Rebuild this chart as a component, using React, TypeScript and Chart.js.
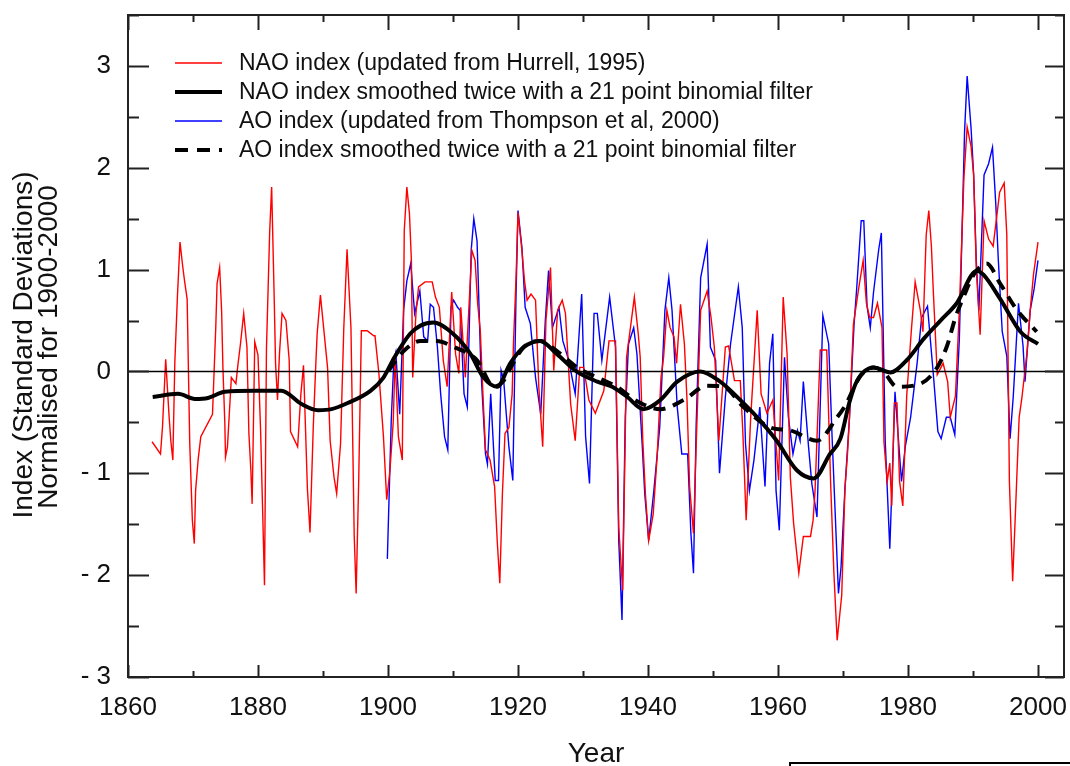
import React, { useEffect, useRef } from "react";
import { Chart, registerables } from "chart.js";

Chart.register(...registerables);

// ---------- data ----------
const naoYears = [1863.7,1865.0,1865.3,1865.8,1866.3,1866.6,1866.9,1867.2,1867.6,1868.0,1868.4,1868.7,1869.1,1869.5,1869.9,1870.2,1870.4,1870.8,1871.2,1873.0,1873.5,1873.7,1874.1,1874.4,1874.6,1874.9,1875.0,1875.3,1875.9,1876.6,1876.9,1877.3,1877.8,1878.3,1878.6,1878.9,1879.1,1879.5,1880.0,1880.4,1880.7,1881.0,1881.3,1881.8,1882.1,1882.5,1882.7,1883.0,1883.3,1883.7,1884.3,1884.8,1885.0,1886.1,1886.6,1887.0,1887.6,1888.0,1888.5,1888.9,1889.1,1889.6,1890.7,1891.1,1891.7,1892.1,1892.7,1893.2,1893.7,1894.3,1894.8,1895.1,1895.5,1895.9,1896.8,1897.8,1898.0,1898.6,1899.3,1899.8,1900.3,1900.8,1901.1,1901.6,1902.2,1902.5,1902.9,1903.3,1903.6,1903.8,1904.3,1904.7,1905.7,1906.8,1907.3,1907.9,1908.5,1909.1,1909.8,1910.4,1910.9,1911.2,1911.9,1912.9,1913.4,1913.8,1914.2,1914.6,1915.0,1915.7,1916.4,1916.8,1917.2,1917.6,1918.0,1918.6,1919.1,1919.3,1919.7,1920.0,1920.6,1921.0,1921.4,1922.0,1922.7,1923.2,1923.8,1924.3,1925.0,1925.5,1926.1,1926.8,1927.3,1928.1,1928.8,1929.5,1930.1,1930.9,1931.9,1933.2,1934.0,1935.0,1935.5,1936.1,1936.7,1937.3,1937.9,1938.5,1938.8,1939.2,1939.6,1940.1,1940.8,1941.4,1942.0,1942.4,1942.9,1943.4,1944.0,1944.4,1945.0,1945.6,1946.0,1946.4,1947.0,1947.5,1948.1,1949.1,1949.7,1950.2,1950.5,1950.9,1951.9,1952.4,1953.3,1954.2,1954.6,1955.1,1955.8,1956.8,1957.4,1958.3,1959.2,1960.1,1960.8,1961.4,1961.9,1962.4,1963.2,1963.9,1965.0,1965.4,1965.7,1966.5,1967.5,1968.1,1968.6,1969.1,1969.8,1970.3,1970.7,1971.0,1971.6,1972.4,1973.1,1973.6,1974.1,1974.7,1975.3,1976.0,1976.3,1976.8,1977.2,1977.5,1977.9,1978.3,1978.7,1979.2,1979.8,1980.5,1981.1,1981.9,1982.3,1982.8,1983.2,1983.6,1983.9,1984.5,1985.4,1986.1,1986.5,1987.3,1987.9,1988.6,1989.1,1989.7,1990.1,1990.5,1991.1,1991.7,1992.4,1993.1,1994.1,1994.8,1995.2,1995.6,1996.1,1996.5,1997.1,1997.5,1998.3,1998.8,1999.3,2000.0];
const naoValues = [-0.69,-0.81,-0.55,0.12,-0.42,-0.69,-0.87,0.08,0.73,1.27,1.04,0.89,0.71,-0.71,-1.46,-1.69,-1.17,-0.86,-0.64,-0.42,0.43,0.86,1.02,0.6,0.04,-0.51,-0.84,-0.74,-0.06,-0.12,0.06,0.27,0.57,0.24,-0.61,-0.97,-1.3,0.29,0.16,-0.58,-1.33,-2.1,0.22,1.38,1.81,0.7,0.08,-0.28,0.17,0.57,0.5,0.11,-0.59,-0.74,-0.22,0.06,-1.15,-1.58,-0.55,0.08,0.37,0.75,0.04,-0.68,-1.04,-1.2,-0.71,0.43,1.2,0.43,-1.61,-2.18,-1.05,0.4,0.4,0.35,0.35,-0.02,-0.64,-1.26,-0.97,-0.5,0.14,-0.64,-0.87,1.38,1.81,1.55,1.09,-0.06,0.57,0.83,0.88,0.88,0.73,0.63,0.11,-0.15,0.78,0.17,-0.02,0.63,-0.06,1.19,1.09,0.66,0.4,-0.22,-0.77,-0.87,-1.13,-1.66,-2.08,-1.2,-0.61,-0.55,-0.22,0.27,0.92,1.56,1.19,0.89,0.7,0.76,0.7,-0.15,-0.74,0.5,1.02,0.01,0.6,0.7,0.57,-0.32,-0.68,0.04,0.04,-0.28,-0.41,-0.19,0.3,0.3,-1.53,-2.15,0.14,0.43,0.73,0.37,0.14,-0.68,-1.2,-1.66,-1.4,-0.84,-0.06,0.14,0.6,0.43,0.34,0.08,0.66,0.27,-0.28,-1.13,-1.59,-0.55,0.6,0.79,0.53,0.24,-0.15,-0.68,0.24,0.25,-0.09,-0.09,-0.61,-1.46,-0.45,0.6,-0.22,-0.41,-0.28,-1.07,0.73,0.17,-1.04,-1.49,-1.98,-1.62,-1.62,-1.46,-1.17,0.21,0.21,-1.1,-1.98,-2.64,-2.2,-1.15,-0.8,-0.45,0.46,0.81,1.09,0.67,0.53,0.53,0.67,0.43,-0.69,-1.08,-0.9,-1.32,-0.31,-0.31,-1.08,-1.32,-0.24,0.39,0.88,0.6,0.39,1.34,1.58,1.23,0.78,-0.03,0.08,-0.1,-0.45,-0.24,0.6,1.9,2.4,2.21,1.93,1.02,0.36,1.48,1.3,1.23,1.76,1.85,1.34,-1.08,-2.06,-1.43,-0.45,-0.27,0.18,0.6,0.95,1.27];

const aoYears = [1899.9,1900.5,1900.9,1901.2,1901.8,1902.4,1902.9,1903.5,1904.1,1904.9,1905.5,1906.1,1906.5,1907.0,1907.6,1908.1,1908.7,1909.2,1909.7,1910.1,1910.7,1911.1,1911.7,1912.2,1912.8,1913.2,1913.7,1914.3,1915.0,1915.3,1915.8,1916.5,1917.0,1917.4,1917.8,1918.2,1918.6,1919.2,1919.7,1920.0,1920.6,1921.1,1921.9,1922.7,1923.5,1924.2,1924.7,1925.3,1926.3,1926.9,1927.8,1928.8,1929.8,1930.4,1931.0,1931.7,1932.2,1932.9,1934.1,1935.0,1935.5,1936.0,1936.5,1937.0,1937.8,1938.3,1939.1,1939.5,1940.1,1940.9,1941.8,1942.6,1943.2,1943.7,1944.5,1945.2,1946.1,1946.6,1947.0,1947.4,1948.1,1949.1,1949.6,1950.4,1951.0,1951.9,1952.7,1953.9,1954.5,1955.0,1955.6,1956.3,1957.2,1958.0,1958.7,1959.2,1959.7,1960.2,1961.0,1961.6,1962.3,1963.0,1963.4,1963.9,1964.7,1965.2,1966.0,1966.9,1967.8,1968.3,1969.3,1969.7,1970.3,1971.0,1971.7,1972.1,1972.8,1973.2,1973.7,1974.2,1974.7,1975.5,1975.9,1976.5,1977.2,1977.7,1978.0,1979.0,1979.6,1980.4,1981.4,1982.1,1983.0,1983.9,1984.6,1985.1,1985.9,1986.5,1987.2,1987.9,1988.7,1989.1,1989.7,1990.1,1990.5,1990.9,1991.7,1992.4,1993.0,1993.5,1993.9,1994.5,1995.2,1995.7,1996.2,1997.0,1997.7,1998.0,1998.8,1999.4,2000.0];
const aoValues = [-1.84,-0.48,0.11,0.19,-0.42,0.6,0.89,1.06,0.57,0.79,0.34,0.3,0.66,0.63,0.24,-0.22,-0.64,-0.77,0.63,0.7,0.63,0.6,-0.22,-0.35,1.19,1.5,1.28,0.01,-0.81,-0.91,-0.22,-1.07,-1.07,0.01,-0.09,-0.42,-0.74,-1.07,0.76,1.58,1.22,0.63,0.47,-0.06,-0.42,0.5,0.99,0.43,0.63,0.3,0.11,-0.22,0.76,-0.64,-1.1,0.57,0.57,0.11,0.73,0.24,-1.66,-2.44,-0.45,0.27,0.43,0.17,-0.71,-1.2,-1.66,-1.17,-0.55,0.6,0.92,0.6,-0.35,-0.81,-0.81,-1.59,-1.98,-0.55,0.92,1.25,0.24,0.11,-1.0,-0.25,0.27,0.83,0.43,-0.71,-1.17,-0.87,-0.35,-1.13,0.08,0.37,-1.17,-1.56,0.14,-0.45,-0.81,-0.58,-0.68,-0.1,-0.74,-1.1,-1.43,0.55,0.27,-0.61,-2.18,-1.92,-1.15,-0.45,0.46,0.81,1.48,1.48,0.64,0.43,0.78,1.2,1.36,-0.69,-1.74,-0.8,-0.2,-1.08,-0.73,-0.45,0.08,0.53,0.64,-0.03,-0.59,-0.66,-0.45,-0.45,-0.62,0.32,2.35,2.9,2.39,1.93,1.09,0.6,1.93,2.04,2.2,1.65,1.09,0.39,0.15,-0.66,-0.24,0.67,0.25,-0.1,0.6,0.81,1.09];

const naoSmoothYears = [1863.8,1867.7,1870.3,1872.3,1874.9,1879.5,1883.6,1886.7,1889.2,1891.3,1893.8,1897.3,1899.3,1901.0,1903.4,1905.0,1907.0,1910.0,1912.7,1914.7,1916.8,1918.8,1920.9,1923.4,1926.0,1929.0,1932.2,1934.5,1936.8,1939.3,1941.9,1944.5,1948.0,1951.1,1953.7,1956.8,1959.8,1962.9,1965.5,1968.0,1969.6,1971.0,1972.1,1974.7,1977.3,1979.8,1982.4,1985.0,1987.5,1990.6,1991.6,1994.2,1997.3,2000.0];
const naoSmoothValues = [-0.25,-0.22,-0.27,-0.26,-0.2,-0.19,-0.19,-0.32,-0.38,-0.37,-0.31,-0.19,-0.06,0.14,0.37,0.45,0.48,0.37,0.17,-0.06,-0.15,0.08,0.24,0.3,0.17,0.0,-0.1,-0.15,-0.25,-0.37,-0.28,-0.1,0.0,-0.1,-0.25,-0.45,-0.68,-0.97,-1.05,-0.81,-0.66,-0.3,-0.1,0.04,-0.01,0.11,0.32,0.5,0.67,0.99,0.95,0.71,0.39,0.27];

const aoSmoothYears = [1900.1,1902.4,1905.0,1907.5,1910.1,1913.7,1916.3,1917.8,1918.8,1920.9,1923.4,1926.0,1929.1,1932.2,1935.2,1938.0,1941.9,1945.5,1949.1,1951.6,1954.7,1958.8,1961.9,1966.0,1969.1,1970.3,1972.7,1974.7,1976.2,1978.3,1981.9,1984.5,1986.0,1987.3,1988.6,1990.1,1992.1,1994.2,1996.8,1999.8];
const aoSmoothValues = [0.01,0.2,0.3,0.3,0.24,0.11,-0.15,-0.09,0.03,0.24,0.3,0.2,0.04,-0.06,-0.15,-0.28,-0.37,-0.28,-0.14,-0.15,-0.35,-0.55,-0.58,-0.68,-0.45,-0.34,-0.04,0.04,0.0,-0.15,-0.12,0.04,0.25,0.53,0.74,0.95,1.06,0.86,0.6,0.39];

const legendLabels = [
  "NAO index (updated from Hurrell, 1995)",
  "NAO index smoothed twice with a 21 point binomial filter",
  "AO index (updated from Thompson et al, 2000)",
  "AO index smoothed twice with a 21 point binomial filter",
];
const yTitleLines = ["Index (Standard Deviations)", "Normalised for 1900-2000"];
const xTitle = "Year";

const FONT = "'Liberation Sans', Arial, Helvetica, sans-serif";

const pts = (xs: number[], ys: number[]) => xs.map((x, i) => ({ x, y: ys[i] }));

const decorPlugin = {
  id: "decor",
  afterDatasetsDraw(chart: any) {
    const { ctx, chartArea: a, scales } = chart;
    const x = scales.x;
    const y = scales.y;
    ctx.save();
    const y0 = y.getPixelForValue(0);
    ctx.strokeStyle = "#000";
    ctx.lineWidth = 1.5;
    ctx.beginPath();
    ctx.moveTo(a.left, y0);
    ctx.lineTo(a.right, y0);
    ctx.stroke();
    ctx.strokeStyle = "#222";
    ctx.lineWidth = 2;
    ctx.strokeRect(a.left, a.top, a.right - a.left, a.bottom - a.top);
    x.ticks.forEach((t: any) => {
      const v = t.value;
      if (Math.abs(v - Math.round(v / 10) * 10) > 1e-6) return;
      const px = Math.round(x.getPixelForValue(v)) + 0.5;
      const major = Math.round(v) % 20 === 0;
      ctx.beginPath();
      ctx.moveTo(px, a.bottom);
      ctx.lineTo(px, a.bottom - (major ? 12 : 6));
      ctx.moveTo(px, a.top);
      ctx.lineTo(px, a.top + (major ? 15 : 7));
      ctx.stroke();
    });
    y.ticks.forEach((t: any) => {
      const v = t.value;
      const py = Math.round(y.getPixelForValue(v)) + 0.5;
      const major = Math.abs(v - Math.round(v)) < 1e-6;
      ctx.beginPath();
      ctx.moveTo(a.left, py);
      ctx.lineTo(a.left + (major ? 21 : 11), py);
      ctx.moveTo(a.right, py);
      ctx.lineTo(a.right - (major ? 19 : 9), py);
      ctx.stroke();
    });
    ctx.restore();
  },
  afterDraw(chart: any) {
    const { ctx, chartArea: a } = chart;
    ctx.save();
    const rows = [63, 92, 121, 150];
    const styles = [
      { color: "#ff0000", width: 1.5, dash: [] as number[] },
      { color: "#000000", width: 4, dash: [] as number[] },
      { color: "#0000ff", width: 1.5, dash: [] as number[] },
      { color: "#000000", width: 4, dash: [13, 9] },
    ];
    ctx.font = `23px ${FONT}`;
    ctx.textBaseline = "middle";
    ctx.textAlign = "left";
    rows.forEach((ry, i) => {
      const s = styles[i];
      ctx.strokeStyle = s.color;
      ctx.lineWidth = s.width;
      ctx.setLineDash(s.dash);
      ctx.beginPath();
      ctx.moveTo(175, ry);
      ctx.lineTo(222, ry);
      ctx.stroke();
      ctx.setLineDash([]);
      ctx.fillStyle = "#111";
      ctx.fillText(legendLabels[i], 239, ry + 1);
    });
    ctx.font = `28px ${FONT}`;
    ctx.fillStyle = "#111";
    ctx.textAlign = "center";
    ctx.textBaseline = "middle";
    ctx.save();
    ctx.translate(24, 345);
    ctx.rotate(-Math.PI / 2);
    ctx.fillText(yTitleLines[0], 0, 0);
    ctx.restore();
    ctx.save();
    ctx.translate(49, 347);
    ctx.rotate(-Math.PI / 2);
    ctx.fillText(yTitleLines[1], 0, 0);
    ctx.restore();
    ctx.textBaseline = "alphabetic";
    ctx.fillText(xTitle, (a.left + a.right) / 2, 762);
    ctx.restore();
  },
};

export default function App() {
  const ref = useRef<HTMLCanvasElement | null>(null);

  useEffect(() => {
    if (!ref.current) return;
    const chart = new Chart(ref.current, {
      type: "line",
      data: {
        datasets: [
          {
            label: legendLabels[3],
            data: pts(aoSmoothYears, aoSmoothValues),
            borderColor: "#000",
            borderWidth: 4,
            borderDash: [12, 8],
            pointRadius: 0,
            cubicInterpolationMode: "monotone",
            order: 0,
          },
          {
            label: legendLabels[1],
            data: pts(naoSmoothYears, naoSmoothValues),
            borderColor: "#000",
            borderWidth: 4,
            pointRadius: 0,
            cubicInterpolationMode: "monotone",
            order: 1,
          },
          {
            label: legendLabels[0],
            data: pts(naoYears, naoValues),
            borderColor: "#ff0000",
            borderWidth: 1.4,
            pointRadius: 0,
            order: 2,
          },
          {
            label: legendLabels[2],
            data: pts(aoYears, aoValues),
            borderColor: "#0000ff",
            borderWidth: 1.4,
            pointRadius: 0,
            order: 3,
          },
        ],
      },
      options: {
        animation: false,
        responsive: false,
        devicePixelRatio: 1,
        layout: { padding: { left: 0, top: 15, right: 6, bottom: 0 } },
        plugins: {
          legend: { display: false },
          tooltip: { enabled: false },
        },
        elements: { line: { tension: 0, borderJoinStyle: "miter" } },
        scales: {
          x: {
            type: "linear",
            min: 1860,
            max: 2004,
            border: { display: false },
            grid: { display: false },
            ticks: {
              stepSize: 10,
              includeBounds: false,
              autoSkip: false,
              maxRotation: 0,
              minRotation: 0,
              padding: 7,
              color: "#111",
              font: { size: 26, family: FONT },
              callback: (v: any) => (Math.round(v) % 20 === 0 ? String(Math.round(v)) : ""),
            },
            afterFit: (s: any) => {
              s.height = 89;
              s.paddingLeft = 0;
              s.paddingRight = 0;
              s.paddingTop = 0;
              s.paddingBottom = 0;
            },
          },
          y: {
            type: "linear",
            min: -3,
            max: 3.5,
            border: { display: false },
            grid: { display: false },
            ticks: {
              stepSize: 0.5,
              includeBounds: false,
              autoSkip: false,
              padding: 9,
              color: "#111",
              font: { size: 26, family: FONT },
              callback: (v: any) => {
                const n = Number(v);
                if (Math.abs(n - Math.round(n)) > 1e-6) return "";
                const r = Math.round(n);
                return r < 0 ? "- " + Math.abs(r) : String(r);
              },
            },
            afterFit: (s: any) => {
              s.width = 128;
              s.paddingLeft = 0;
              s.paddingRight = 0;
              s.paddingTop = 0;
              s.paddingBottom = 0;
            },
          },
        },
      },
      plugins: [decorPlugin],
    });
    return () => chart.destroy();
  }, []);

  return (
    <div
      style={{
        position: "absolute",
        left: 0,
        top: 0,
        width: 1070,
        height: 766,
        overflow: "hidden",
        background: "#fff",
      }}
    >
      <canvas ref={ref} width={1070} height={766} style={{ display: "block" }} />
      <div
        style={{
          position: "absolute",
          left: 789,
          top: 762,
          width: 400,
          height: 40,
          border: "2px solid #000",
          boxSizing: "border-box",
        }}
      />
    </div>
  );
}
